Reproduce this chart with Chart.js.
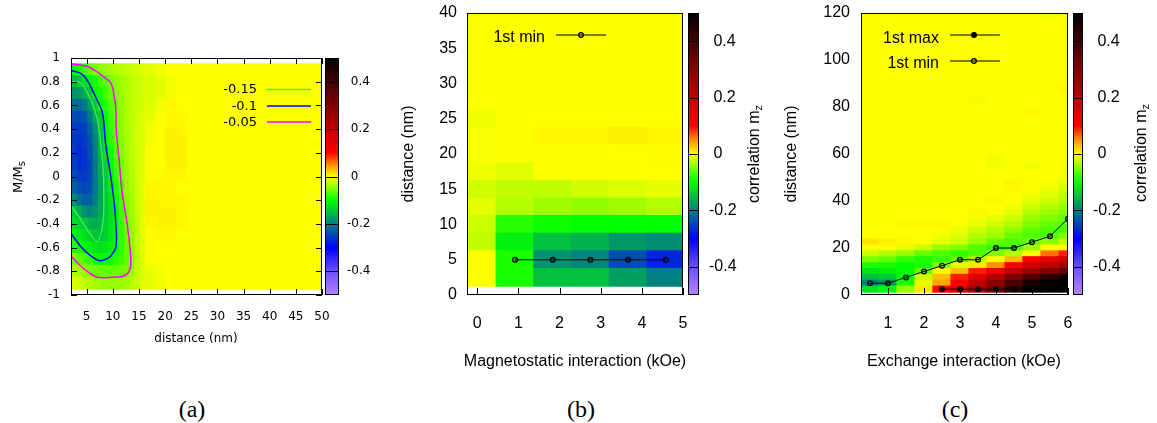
<!DOCTYPE html>
<html>
<head>
<meta charset="utf-8">
<script src="https://cdn.jsdelivr.net/npm/chart.js@4.4.1/dist/chart.umd.min.js"></script>
<style>
  body { margin: 0; background: #fff; width: 1157px; height: 423px; overflow: hidden; position: relative; }
  canvas { position: absolute; top: 0; }
  .cap { position: absolute; top: 397px; font: 24px "Liberation Serif", serif; line-height: 1; transform: translateX(-50%); }
</style>
</head>
<body>
<canvas id="chartA" width="390" height="390" style="left:0"></canvas>
<canvas id="chartB" width="380" height="390" style="left:390px"></canvas>
<canvas id="chartC" width="387" height="390" style="left:770px"></canvas>
<div class="cap" style="left:192px">(a)</div>
<div class="cap" style="left:581px">(b)</div>
<div class="cap" style="left:955px">(c)</div>
<script>
// ---- colour scale: correlation m_z ----
const cbRange = [-0.5, 0.5];
const cbTicks = [-0.4, -0.2, 0, 0.2, 0.4];
const paletteStops = [
    [-0.5, "#b484ff"], [-0.4, "#6a50ff"], [-0.3, "#0000ff"], [-0.2, "#008080"],
    [-0.1, "#00ff00"], [0, "#ffff00"], [0.05, "#ff9000"], [0.1, "#ff0000"],
    [0.2, "#c00000"], [0.3, "#800000"], [0.4, "#400000"], [0.5, "#000000"]
];

// ---- panel (a): correlation vs M/Ms and distance ----
const magA = [0.9, 0.8, 0.7, 0.6, 0.5, 0.4, 0.3, 0.2, 0.1, 0, -0.1, -0.2, -0.3, -0.4, -0.5, -0.6, -0.7, -0.8, -0.9];
const distEdgesA = [2, 3, 4, 5, 6, 7, 8, 9, 10, 11, 12, 13, 14, 15, 16, 18, 20, 22, 24, 26, 50];
const corrA = [
    [-0.1, -0.09, -0.075, -0.062, -0.05, -0.045, -0.04, -0.035, -0.03, -0.028, -0.025, -0.02, -0.018, -0.015, -0.01, -0.005, 0, 0, 0, 0],
    [-0.155, -0.145, -0.125, -0.105, -0.088, -0.075, -0.065, -0.052, -0.045, -0.038, -0.032, -0.027, -0.022, -0.02, -0.015, -0.01, -0.005, 0, 0, 0],
    [-0.185, -0.18, -0.165, -0.148, -0.105, -0.09, -0.075, -0.06, -0.048, -0.04, -0.032, -0.027, -0.022, -0.02, -0.015, -0.01, -0.005, 0, 0, 0],
    [-0.215, -0.215, -0.205, -0.175, -0.14, -0.1, -0.085, -0.068, -0.052, -0.042, -0.033, -0.027, -0.022, -0.018, -0.012, -0.005, 0.003, 0, 0, 0],
    [-0.24, -0.245, -0.235, -0.205, -0.165, -0.14, -0.1, -0.075, -0.055, -0.043, -0.033, -0.027, -0.02, -0.015, -0.01, 0, 0.004, 0.003, 0, 0],
    [-0.25, -0.255, -0.25, -0.225, -0.185, -0.145, -0.105, -0.08, -0.058, -0.045, -0.034, -0.027, -0.02, -0.015, -0.005, 0, 0.005, 0.004, 0, 0],
    [-0.255, -0.26, -0.255, -0.235, -0.195, -0.155, -0.11, -0.085, -0.062, -0.048, -0.035, -0.027, -0.02, -0.015, -0.005, 0, 0.006, 0.005, 0, 0],
    [-0.255, -0.265, -0.26, -0.24, -0.2, -0.16, -0.125, -0.095, -0.068, -0.05, -0.036, -0.027, -0.02, -0.015, 0, 0, 0.006, 0.005, 0, 0],
    [-0.25, -0.265, -0.26, -0.245, -0.205, -0.168, -0.135, -0.105, -0.075, -0.055, -0.04, -0.028, -0.02, -0.015, 0, 0, 0.005, 0.005, 0, 0],
    [-0.24, -0.255, -0.255, -0.245, -0.205, -0.172, -0.14, -0.11, -0.08, -0.058, -0.042, -0.03, -0.02, -0.015, 0, 0.002, 0.003, 0.003, 0, 0],
    [-0.225, -0.24, -0.245, -0.238, -0.205, -0.172, -0.145, -0.115, -0.09, -0.06, -0.044, -0.032, -0.022, -0.012, 0.003, 0.004, 0.003, 0, 0, 0],
    [-0.19, -0.215, -0.225, -0.225, -0.2, -0.172, -0.145, -0.12, -0.095, -0.07, -0.05, -0.035, -0.022, -0.012, 0.005, 0.005, 0.004, 0.003, 0, 0],
    [-0.145, -0.165, -0.185, -0.195, -0.185, -0.165, -0.145, -0.122, -0.1, -0.075, -0.053, -0.037, -0.023, -0.012, 0.005, 0.005, 0.005, 0.003, 0, 0],
    [-0.125, -0.135, -0.145, -0.158, -0.165, -0.158, -0.14, -0.12, -0.1, -0.078, -0.057, -0.04, -0.025, -0.012, 0.003, 0.005, 0.005, 0.003, 0, 0],
    [-0.105, -0.115, -0.125, -0.135, -0.148, -0.152, -0.135, -0.118, -0.1, -0.08, -0.06, -0.042, -0.025, -0.012, 0, 0.003, 0.003, 0, 0, 0],
    [-0.085, -0.095, -0.105, -0.11, -0.12, -0.125, -0.12, -0.11, -0.098, -0.08, -0.062, -0.045, -0.027, -0.012, 0, 0, 0, 0, 0, 0],
    [-0.052, -0.06, -0.07, -0.08, -0.095, -0.102, -0.102, -0.095, -0.085, -0.075, -0.062, -0.048, -0.028, -0.012, 0, 0, 0, 0, 0, 0],
    [-0.03, -0.035, -0.042, -0.05, -0.056, -0.06, -0.062, -0.062, -0.06, -0.058, -0.053, -0.04, -0.025, -0.015, -0.008, -0.004, 0, 0, 0, 0],
    [-0.015, -0.02, -0.025, -0.03, -0.035, -0.04, -0.042, -0.042, -0.042, -0.04, -0.036, -0.03, -0.022, -0.015, -0.01, -0.005, 0, 0, 0, 0]
];
// contour lines, points as {x: distance, y: M/Ms}
const contourLevelsA = ["-0.15", "-0.1", "-0.05"];
const contour015 = [
    {x: 2, y: 0.8}, {x: 3.85, y: 0.79}, {x: 5.77, y: 0.65}, {x: 7.05, y: 0.48}, {x: 8, y: 0.14},
    {x: 8.3, y: -0.2}, {x: 8, y: -0.42}, {x: 7.05, y: -0.55}, {x: 5.1, y: -0.45}, {x: 3.85, y: -0.36},
    {x: 2.5, y: -0.28}, {x: 2, y: -0.25}
];
const contour010 = [
    {x: 2, y: 0.895}, {x: 3.85, y: 0.87}, {x: 5, y: 0.82}, {x: 6.4, y: 0.7}, {x: 8, y: 0.54},
    {x: 8.6, y: 0.28}, {x: 9.6, y: 0}, {x: 10.2, y: -0.2}, {x: 10.6, y: -0.42}, {x: 10.6, y: -0.59},
    {x: 9.6, y: -0.67}, {x: 8.5, y: -0.7}, {x: 7.4, y: -0.71}, {x: 5.8, y: -0.67}, {x: 3.85, y: -0.59},
    {x: 2, y: -0.48}
];
const contour005 = [
    {x: 2, y: 0.95}, {x: 3.85, y: 0.94}, {x: 5, y: 0.93}, {x: 6.4, y: 0.9}, {x: 8, y: 0.85},
    {x: 9.6, y: 0.79}, {x: 10.2, y: 0.7}, {x: 10.6, y: 0.55}, {x: 10.6, y: 0.42}, {x: 11.2, y: 0.14},
    {x: 11.8, y: -0.14}, {x: 12.8, y: -0.42}, {x: 13.4, y: -0.67}, {x: 13.3, y: -0.78}, {x: 12.1, y: -0.84},
    {x: 10, y: -0.85}, {x: 7, y: -0.85}, {x: 5.1, y: -0.8}, {x: 3.5, y: -0.74}, {x: 2, y: -0.67}
];
const xTicksA = [5, 10, 15, 20, 25, 30, 35, 40, 45, 50];
const yTicksA = [-1, -0.8, -0.6, -0.4, -0.2, 0, 0.2, 0.4, 0.6, 0.8, 1];

// ---- panel (b): magnetostatic interaction ----
const fieldB = [0, 0.917, 1.833, 2.75, 3.667, 4.583];
const distB = [2.5, 5, 7.5, 10, 12.5, 15, 17.5, 20, 22.5, 25, 27.5, 30, 32.5, 35, 37.5, 40];
const corrB = [
    [0, -0.09, -0.15, -0.15, -0.175, -0.2],
    [0, -0.09, -0.185, -0.195, -0.24, -0.27],
    [-0.025, -0.11, -0.15, -0.16, -0.18, -0.19],
    [-0.02, -0.085, -0.095, -0.1, -0.1, -0.1],
    [-0.01, -0.03, -0.038, -0.043, -0.038, -0.03],
    [-0.018, -0.025, -0.025, -0.018, -0.015, -0.01],
    [-0.006, -0.012, 0, 0, 0, 0],
    [-0.003, 0, 0, 0, 0, 0.001],
    [-0.003, 0, 0.003, 0.003, 0.006, 0.004],
    [-0.006, 0, 0, 0, 0, 0],
    [0, 0, 0, 0, 0, 0],
    [0, 0, 0, 0, 0, 0],
    [0, 0, 0, 0, 0, 0],
    [0, 0, 0, 0, 0, 0],
    [0, 0, 0, 0, 0, 0],
    [0, 0, 0, 0, 0, 0]
];
const minFieldB = [0.917, 1.833, 2.75, 3.667, 4.583];
const minDistB = [5, 5, 5, 5, 5];
const xTicksB = [0, 1, 2, 3, 4, 5];
const yTicksB = [0, 5, 10, 15, 20, 25, 30, 35, 40];

// ---- panel (c): exchange interaction ----
const fieldC = [0.5, 1, 1.5, 2, 2.5, 3, 3.5, 4, 4.5, 5, 5.5, 6];
const distC = [2.5, 5, 7.5, 10, 12.5, 15, 17.5, 20, 22.5, 25, 27.5, 30, 32.5, 35, 37.5, 40,
    42.5, 45, 47.5, 50, 52.5, 55, 57.5, 60, 62.5, 65, 67.5, 70, 72.5, 75, 77.5, 80,
    82.5, 85, 87.5, 90, 92.5, 95, 97.5, 100, 102.5, 105, 107.5, 110, 112.5, 115, 117.5, 120];
const corrC = [
    [-0.12, -0.10, -0.04, 0.01, 0.10, 0.15, 0.23, 0.30, 0.42, 0.50, 0.50, 0.50],
    [-0.20, -0.18, -0.09, -0.01, 0.04, 0.10, 0.20, 0.28, 0.38, 0.46, 0.50, 0.50],
    [-0.15, -0.14, -0.10, -0.02, 0.03, 0.09, 0.15, 0.22, 0.30, 0.37, 0.43, 0.48],
    [-0.12, -0.11, -0.10, -0.06, 0.00, 0.03, 0.09, 0.13, 0.20, 0.26, 0.30, 0.34],
    [-0.09, -0.09, -0.10, -0.09, -0.05, -0.01, 0.01, 0.05, 0.10, 0.17, 0.21, 0.24],
    [-0.05, -0.06, -0.08, -0.09, -0.08, -0.06, -0.03, 0.00, 0.03, 0.10, 0.14, 0.17],
    [-0.02, -0.03, -0.04, -0.06, -0.07, -0.08, -0.07, -0.05, -0.03, 0.00, 0.06, 0.09],
    [0, 0, -0.01, -0.02, -0.04, -0.05, -0.07, -0.08, -0.07, -0.04, 0, 0],
    [0.012, 0.006, 0.003, 0, -0.01, -0.02, -0.04, -0.06, -0.07, -0.06, -0.045, -0.025],
    [0, 0, 0, 0, -0.005, -0.015, -0.03, -0.04, -0.06, -0.07, -0.07, -0.05],
    [0, 0, 0, 0, 0, -0.008, -0.02, -0.03, -0.045, -0.06, -0.07, -0.07],
    [0, 0, 0.003, 0.003, 0.003, 0, -0.01, -0.02, -0.03, -0.05, -0.06, -0.065],
    [0, 0, 0, 0, 0, 0, -0.005, -0.01, -0.02, -0.04, -0.05, -0.06],
    [0, 0, 0, 0, 0, 0, 0.003, 0, -0.01, -0.03, -0.04, -0.05],
    [0, 0, 0, 0, 0, 0, 0, 0, -0.005, -0.02, -0.03, -0.04],
    [0, 0, 0, 0, 0, 0, 0, 0.003, 0, -0.01, -0.02, -0.03],
    [0, 0, 0, 0, 0, 0, 0, 0, 0, -0.005, -0.012, -0.025],
    [0, 0, 0, 0, 0, 0, 0, 0, 0.003, 0, -0.006, -0.016],
    [0, 0, 0, 0, 0, 0, 0, 0, 0.004, 0, -0.003, -0.01],
    [0, 0, 0, 0, 0, 0, 0, 0, 0, 0, 0, -0.006],
    [0, 0, 0, 0, 0, 0, 0, 0, 0, 0, 0, -0.004],
    [0, 0, 0, 0, 0, 0, 0, -0.005, 0, -0.005, 0, -0.004],
    [0, 0, 0, 0, 0, 0, 0, -0.006, 0, 0, 0, 0],
    [0, 0, 0, 0, 0, 0, 0, -0.003, 0, 0, 0, 0],
    [0, 0, 0, 0, 0, 0, 0, 0, 0, 0, 0, 0],
    [0, 0, 0, 0, 0, 0, 0, 0, 0, 0, 0, 0],
    [0, 0, 0, 0, 0, 0, 0, 0, 0, 0, 0, 0],
    [0, 0, 0, 0, 0, 0, 0, 0, 0, 0, 0, 0],
    [0, 0, 0, 0, 0, 0, 0, 0, 0, 0, 0, 0],
    [0, 0, 0, 0, 0, 0, 0, 0, 0, 0, 0, 0],
    [0, 0, 0, 0, 0, 0, 0, 0, 0, 0.003, 0, 0],
    [0, 0, 0, 0, 0, 0, 0, 0, 0, 0, 0, 0],
    [0, 0, 0, 0, 0, 0, -0.004, 0, 0, 0, 0, 0],
    [0, 0, 0, 0, 0, 0, 0, 0, 0, 0, 0, 0],
    [0, 0, 0, 0, 0, 0, 0, 0, 0, 0, 0, 0.004],
    [0, 0, 0, 0, 0, 0, 0, 0, 0, 0, 0, 0],
    [0, 0, 0, 0, 0, 0, 0, 0, 0, 0, 0, 0],
    [0, 0, 0, 0, 0, 0, 0, 0, 0, 0, 0, 0],
    [0, 0, 0, 0, 0, 0, 0, 0, 0, 0, 0, 0],
    [0, 0, 0, 0, 0, 0, 0, 0, 0, 0, 0, 0],
    [0, 0, 0, 0, 0, 0, 0, 0, 0, 0, 0, 0],
    [0, 0, 0, 0, 0, 0, 0, 0, 0, 0, 0, 0],
    [0, 0, 0, 0, 0, 0, 0, 0, 0, 0, 0, 0],
    [0, 0, 0, 0, 0, 0, 0, 0, 0, 0, 0, 0],
    [0, 0, 0, 0, 0, 0, 0, 0, 0, 0, 0, 0],
    [0, 0, 0, 0, 0, 0, 0, 0, 0, 0, 0, 0],
    [0, 0, 0, 0, 0, 0, 0, 0, 0, 0, -0.004, 0],
    [0, 0, 0, 0, 0, 0, 0, 0, 0, 0, 0, 0]
];
const minFieldC = [0.5, 1, 1.5, 2, 2.5, 3, 3.5, 4, 4.5, 5, 5.5, 6];
const minDistC = [5, 5, 7.5, 10, 12.5, 15, 15, 20, 20, 22.5, 25, 32.5];
const maxFieldC = [2.5, 3, 3.5, 4, 4.5, 5, 5.5, 6];
const maxDistC = [2.5, 2.5, 2.5, 2.5, 2.5, 2.5, 2.5, 2.5];
const xTicksC = [1, 2, 3, 4, 5, 6];
const yTicksC = [0, 20, 40, 60, 80, 100, 120];

// ---------------------------------------------------------------

function hexRgb(h) {
    return [parseInt(h.slice(1, 3), 16), parseInt(h.slice(3, 5), 16), parseInt(h.slice(5, 7), 16)];
}

// map a correlation value onto the palette
function corrColour(v) {
    const s = paletteStops;
    if (v <= s[0][0]) return s[0][1];
    for (let i = 1; i < s.length; i++) {
        if (v <= s[i][0]) {
            const t = (v - s[i - 1][0]) / (s[i][0] - s[i - 1][0]);
            const a = hexRgb(s[i - 1][1]), b = hexRgb(s[i][1]);
            const c = a.map((ch, k) => Math.round(ch + (b[k] - ch) * t));
            return "rgb(" + c.join(",") + ")";
        }
    }
    return s[s.length - 1][1];
}

const fmt = v => String(Math.round(v * 10) / 10);
const SANS = "'Liberation Sans', Arial, sans-serif";
const DEJA = "'DejaVu Sans', sans-serif";

const cellStyle = {
    type: "bar", grouped: false, categoryPercentage: 1, barPercentage: 1,
    borderWidth: 0, inflateAmount: 0.6, order: 2
};

// decorations drawn on top of each panel: frame, inward tics, colour box, titles, key
const deco = {
    chartA: {
        tickLen: 6, tickSides: "btlr", cbGap: 3, cbWidth: 14,
        texts: [
            {text: "distance (nm)", x: 196, y: 339, font: "12px " + DEJA},
            {text: "M/M", sub: "s", x: 19, y: 177, rot: true, font: "13px " + DEJA, subFont: "10px " + DEJA, subDrop: 3}
        ],
        keyFont: "13px " + DEJA,
        key: [
            {text: contourLevelsA[0], tx: 257, ty: 90, x0: 267, x1: 311, ly: 89.5, colour: "#44ee44", width: 1.3},
            {text: contourLevelsA[1], tx: 257, ty: 106.5, x0: 267, x1: 311, ly: 106, colour: "#0000ff", width: 1.5},
            {text: contourLevelsA[2], tx: 257, ty: 122.5, x0: 267, x1: 311, ly: 122, colour: "#ff00ff", width: 1.5}
        ]
    },
    chartB: {
        tickLen: 7, tickSides: "b", cbGap: 5, cbWidth: 11,
        texts: [
            {text: "Magnetostatic interaction (kOe)", x: 185, y: 362, font: "16px " + SANS},
            {text: "distance (nm)", x: 19, y: 154, rot: true, font: "16px " + SANS},
            {text: "correlation m", sub: "z", x: 365, y: 154, rot: true, font: "16px " + SANS, subFont: "11px " + SANS, subDrop: 4}
        ],
        keyFont: "16px " + SANS,
        key: [
            {text: "1st min", tx: 155, ty: 38, x0: 166, x1: 216, ly: 35, mx: 191, marker: "open", colour: "#000", width: 1}
        ]
    },
    chartC: {
        tickLen: 7, tickSides: "b", cbGap: 5, cbWidth: 10,
        texts: [
            {text: "Exchange interaction (kOe)", x: 194, y: 362, font: "16px " + SANS},
            {text: "distance (nm)", x: 22, y: 154, rot: true, font: "16px " + SANS},
            {text: "correlation m", sub: "z", x: 372, y: 153, rot: true, font: "16px " + SANS, subFont: "11px " + SANS, subDrop: 4}
        ],
        keyFont: "16px " + SANS,
        key: [
            {text: "1st max", tx: 169, ty: 39, x0: 180, x1: 230, ly: 35, mx: 204, marker: "filled", colour: "#000", width: 1},
            {text: "1st min", tx: 169, ty: 64, x0: 180, x1: 230, ly: 61, mx: 204, marker: "open", colour: "#000", width: 1}
        ]
    }
};

function drawLabel(ctx, t) {
    ctx.save();
    ctx.translate(t.x, t.y);
    if (t.rot) ctx.rotate(-Math.PI / 2);
    ctx.font = t.font;
    const w1 = ctx.measureText(t.text).width;
    let w2 = 0;
    if (t.sub) { ctx.font = t.subFont; w2 = ctx.measureText(t.sub).width; }
    const start = -(w1 + w2) / 2;
    ctx.fillStyle = "#000";
    ctx.textBaseline = "middle";
    ctx.textAlign = "left";
    ctx.font = t.font;
    ctx.fillText(t.text, start, 0);
    if (t.sub) { ctx.font = t.subFont; ctx.fillText(t.sub, start + w1, t.subDrop); }
    ctx.restore();
}

const decoPlugin = {
    id: "deco",
    afterDraw(chart) {
        const d = deco[chart.canvas.id];
        const ctx = chart.ctx, a = chart.chartArea;
        const xs = chart.scales.x, ys = chart.scales.y, cb = chart.scales.cb;
        ctx.save();
        ctx.strokeStyle = "#000";
        ctx.lineWidth = 1;

        // inward tics
        ctx.beginPath();
        xs.ticks.forEach(t => {
            const px = Math.round(xs.getPixelForValue(t.value)) + 0.5;
            if (d.tickSides.includes("b")) { ctx.moveTo(px, a.bottom); ctx.lineTo(px, a.bottom - d.tickLen); }
            if (d.tickSides.includes("t")) { ctx.moveTo(px, a.top); ctx.lineTo(px, a.top + d.tickLen); }
        });
        ys.ticks.forEach(t => {
            const py = Math.round(ys.getPixelForValue(t.value)) + 0.5;
            if (d.tickSides.includes("l")) { ctx.moveTo(a.left, py); ctx.lineTo(a.left + d.tickLen, py); }
            if (d.tickSides.includes("r")) { ctx.moveTo(a.right, py); ctx.lineTo(a.right - d.tickLen, py); }
        });
        ctx.stroke();
        ctx.strokeRect(Math.round(a.left) + 0.5, Math.round(a.top) + 0.5,
            Math.round(a.right - a.left) - 1, Math.round(a.bottom - a.top) - 1);

        // colour box
        const x0 = Math.round(a.right) + d.cbGap;
        const yTop = cb.getPixelForValue(cbRange[1]), yBot = cb.getPixelForValue(cbRange[0]);
        const g = ctx.createLinearGradient(0, yBot, 0, yTop);
        paletteStops.forEach(([v, c]) => g.addColorStop((v - cbRange[0]) / (cbRange[1] - cbRange[0]), c));
        ctx.fillStyle = g;
        ctx.fillRect(x0, yTop, d.cbWidth, yBot - yTop);
        ctx.beginPath();
        cb.ticks.forEach(t => {
            const py = Math.round(cb.getPixelForValue(t.value)) + 0.5;
            ctx.moveTo(x0, py); ctx.lineTo(x0 + d.cbWidth, py);
        });
        ctx.stroke();
        ctx.strokeRect(x0 + 0.5, Math.round(yTop) + 0.5, d.cbWidth - 1, Math.round(yBot - yTop) - 1);

        // titles
        d.texts.forEach(t => drawLabel(ctx, t));

        // key
        d.key.forEach(k => {
            ctx.font = d.keyFont;
            ctx.fillStyle = "#000";
            ctx.textAlign = "right";
            ctx.textBaseline = "middle";
            ctx.fillText(k.text, k.tx, k.ty);
            ctx.strokeStyle = k.colour;
            ctx.lineWidth = k.width;
            ctx.beginPath();
            ctx.moveTo(k.x0, k.ly); ctx.lineTo(k.x1, k.ly);
            ctx.stroke();
            if (k.marker) {
                ctx.beginPath();
                ctx.arc(k.mx, k.ly, 2.4, 0, Math.PI * 2);
                ctx.fillStyle = k.marker === "filled" ? "#000" : "rgba(0,0,0,0.15)";
                ctx.fill();
                ctx.lineWidth = 1.2;
                ctx.strokeStyle = "#000";
                ctx.stroke();
            }
        });
        ctx.restore();
    }
};

function axis(min, max, pos, ticks, fit, font, pad) {
    return {
        type: "linear", min: min, max: max, position: pos, offset: false,
        grid: {display: false, drawTicks: false},
        border: {display: false},
        afterBuildTicks: s => { s.ticks = ticks.map(v => ({value: v})); },
        afterFit: s => {
            if (pos === "bottom") s.height = fit; else s.width = fit;
            // the frame is fixed by hand, so no label overhang padding
            s.paddingTop = s.paddingBottom = s.paddingLeft = s.paddingRight = 0;
        },
        ticks: {font: font, color: "#000", padding: pad, autoSkip: false, maxRotation: 0, minRotation: 0, callback: v => fmt(v)}
    };
}

function cbAxis(width, font, pad) {
    const ax = axis(cbRange[0], cbRange[1], "right", cbTicks, width, font, pad);
    ax.ticks.callback = v => (v >= 0 ? " " : "") + fmt(v);
    return ax;
}

function makePanel(id, datasets, top, scales) {
    return new Chart(document.getElementById(id), {
        type: "bar",
        data: {datasets: datasets},
        options: {
            responsive: false,
            animation: false,
            layout: {padding: {left: 0, right: 0, top: top, bottom: 0}},
            plugins: {legend: {display: false}, tooltip: {enabled: false}},
            scales: scales
        },
        plugins: [decoPlugin]
    });
}

function lineSeries(xs, ys, filled) {
    return {
        type: "line", order: 0, data: xs.map((x, i) => ({x: x, y: ys[i]})),
        borderColor: "#000", borderWidth: 1, tension: 0,
        pointRadius: 2.4, pointBorderWidth: 1.2, pointBorderColor: "#000",
        pointBackgroundColor: filled ? "#000" : "rgba(0,0,0,0.15)"
    };
}

// ---- panel (a) ----
const dsA = distEdgesA.slice(0, -1).map((x0, c) => Object.assign({}, cellStyle, {
    indexAxis: "y",
    data: magA.map(m => ({y: m, x: [x0, distEdgesA[c + 1]]})),
    backgroundColor: corrA.map(row => corrColour(row[c]))
}));
[contour015, contour010, contour005].forEach((pts, i) => {
    dsA.push({
        type: "line", order: 0, data: pts, tension: 0.3, pointRadius: 0,
        borderColor: deco.chartA.key[i].colour, borderWidth: deco.chartA.key[i].width
    });
});
const fontA = {family: DEJA, size: 12};
makePanel("chartA", dsA, 58, {
    x: axis(2, 50, "bottom", xTicksA, 95, fontA, 15),
    y: axis(-1, 1, "left", yTicksA, 71, fontA, 11),
    cb: cbAxis(68, fontA, 25)
});

// ---- panel (b) ----
const fontBC = {family: SANS, size: 16};
const dsB = distB.map((dist, r) => Object.assign({}, cellStyle, {
    data: fieldB.map(f => ({x: f, y: [dist - 1.25, dist + 1.25]})),
    backgroundColor: corrB[r].map(corrColour)
}));
dsB.push(lineSeries(minFieldB, minDistB, false));
makePanel("chartB", dsB, 13, {
    x: axis(-0.25, 5, "bottom", xTicksB, 95, fontBC, 19),
    y: axis(0, 40, "left", yTicksB, 77, fontBC, 10),
    cb: cbAxis(87, fontBC, 26)
});

// ---- panel (c) ----
const dsC = distC.map((dist, r) => Object.assign({}, cellStyle, {
    data: fieldC.map(f => ({x: f, y: [dist - 1.25, dist + 1.25]})),
    backgroundColor: corrC[r].map(corrColour)
}));
dsC.push(lineSeries(maxFieldC, maxDistC, true));
dsC.push(lineSeries(minFieldC, minDistC, false));
makePanel("chartC", dsC, 13, {
    x: axis(0.25, 6, "bottom", xTicksC, 95, fontBC, 19),
    y: axis(0, 120, "left", yTicksC, 91, fontBC, 11),
    cb: cbAxis(89, fontBC, 25)
});
</script>
</body>
</html>
